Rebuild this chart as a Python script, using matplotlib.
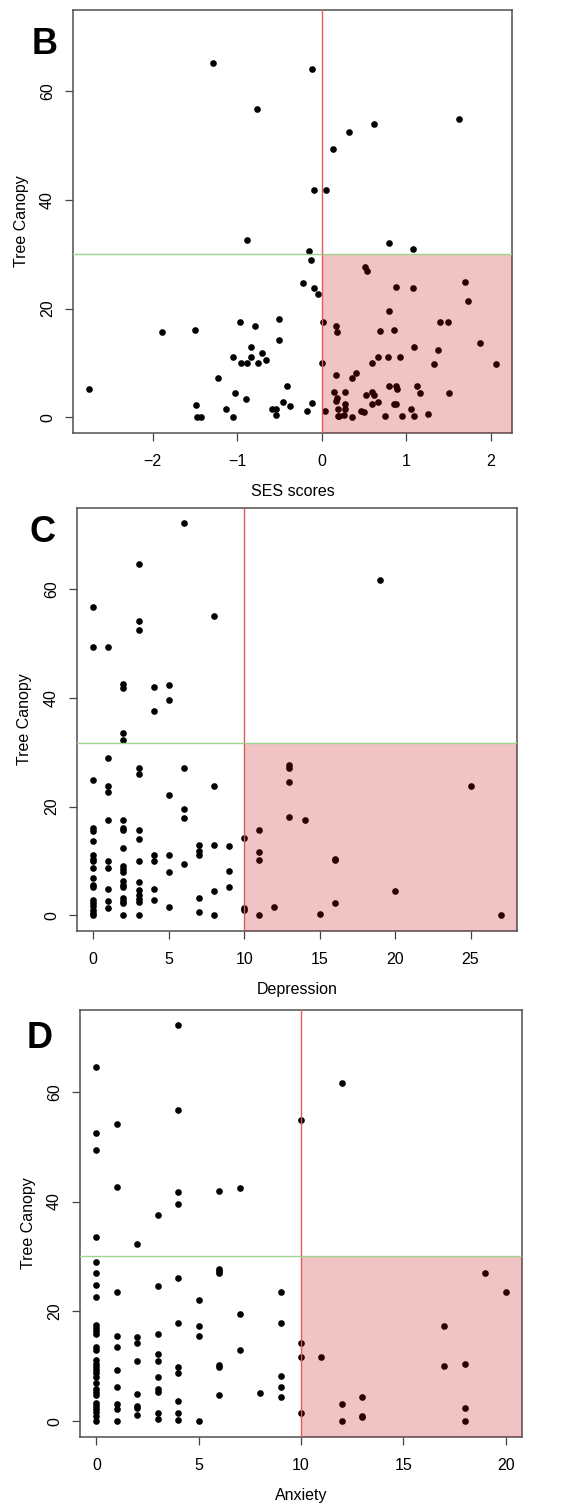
import numpy as np
import matplotlib
matplotlib.use('Agg')
import matplotlib.pyplot as plt
import matplotlib.patches as mpatches

plt.rcParams['font.family'] = ['Liberation Sans', 'DejaVu Sans']

# panel B: SES scores vs tree canopy
ses_B = [-1.28, -0.11, -0.76, 1.62, 0.62, 0.32, 0.13, -0.09, 0.05, -0.88,
         0.80, 1.08, -0.15, -0.13, -0.22, -0.09, -0.04, 0.51, 0.54, 1.70,
         0.88, 1.08, 1.73, 0.80, -0.50, -0.96, 0.02, 1.40, 1.49, -0.79,
         0.17, 0.18, 0.85, 0.69, -1.89, -1.50, -0.51, 1.87, -0.83, 1.09,
         1.37, -0.70, -1.05, -0.84, 0.67, 0.78, 0.92, -0.66, -0.95, -0.88,
         -0.75, 0.00, 0.59, 1.33, 2.06, -1.22, 0.17, 0.36, 0.41, -2.75,
         -0.41, 0.80, 0.88, 0.89, 1.13, -1.02, 0.15, 0.28, 0.59, 0.62,
         0.52, 1.16, 1.50, 0.18, 0.17, -0.90, -0.46, -0.11, 0.66, -1.48,
         -0.37, 0.27, 0.59, 0.86, 0.88, -1.13, -0.59, -0.54, 0.19, 0.27,
         1.06, -0.17, 0.04, 0.46, 0.50, -0.54, 0.26, 1.26, -1.47, -1.43,
         -1.05, 0.19, 0.21, 0.36, 0.75, 0.95, 1.09]
canopy_B = [65.1, 64.0, 56.6, 54.8, 54.0, 52.4, 49.3, 41.8, 41.8, 32.6,
            32.1, 31.0, 30.5, 29.0, 24.7, 23.7, 22.6, 27.7, 26.9, 24.8,
            24.0, 23.7, 21.4, 19.6, 18.0, 17.5, 17.5, 17.5, 17.5, 16.8,
            16.8, 15.6, 16.1, 15.8, 15.6, 16.0, 14.2, 13.6, 12.9, 13.0,
            12.3, 11.8, 11.0, 11.0, 11.0, 11.0, 11.0, 10.5, 9.9, 9.9,
            9.9, 9.9, 9.9, 9.8, 9.8, 7.3, 7.7, 7.3, 8.2, 5.3,
            5.7, 5.8, 5.8, 5.3, 5.8, 4.5, 4.7, 4.7, 4.6, 4.1,
            4.1, 4.5, 4.4, 3.6, 3.0, 3.4, 2.8, 2.7, 2.8, 2.3,
            2.1, 2.4, 2.4, 2.5, 2.4, 1.5, 1.5, 1.6, 1.5, 1.6,
            1.5, 1.2, 1.2, 1.2, 1.0, 0.4, 0.5, 0.6, 0.0, 0.0,
            0.0, 0.2, 0.2, 0.0, 0.2, 0.2, 0.2]

# panel C: depression vs tree canopy
dep_C = [6, 3, 19, 0, 8, 3, 3, 0, 1, 2,
         2, 4, 5, 5, 4, 2, 2, 1, 3, 3,
         6, 0, 1, 1, 8, 5, 6, 6, 1, 2,
         0, 0, 2, 2, 3, 3, 0, 2, 7, 8,
         9, 10, 11, 11, 11, 13, 13, 13, 13, 14,
         16, 16, 25, 7, 7, 0, 0, 0, 1, 1,
         3, 4, 4, 5, 6, 0, 2, 2, 2, 5,
         9, 0, 0, 0, 1, 2, 2, 2, 3, 3,
         3, 3, 3, 4, 4, 7, 8, 9, 20, 0,
         0, 0, 0, 0, 0, 1, 1, 2, 2, 2,
         2, 3, 5, 7, 8, 10, 10, 11, 12, 15,
         16, 27]
canopy_C = [72.2, 64.6, 61.6, 56.7, 55.0, 54.1, 52.5, 49.4, 49.4, 42.6,
            41.8, 41.9, 42.4, 39.6, 37.5, 33.5, 32.2, 29.0, 27.0, 26.0,
            27.0, 24.9, 23.7, 22.6, 23.7, 22.2, 19.5, 17.9, 17.5, 17.5,
            16.1, 15.5, 16.0, 15.6, 15.6, 14.1, 13.6, 12.3, 13.0, 13.0,
            12.8, 14.2, 15.6, 11.7, 10.2, 27.6, 27.0, 24.6, 18.0, 17.5,
            10.4, 10.1, 23.7, 11.8, 11.0, 11.1, 10.4, 9.9, 9.9, 8.7,
            9.9, 11.0, 9.9, 11.0, 9.5, 8.7, 9.0, 8.5, 8.0, 8.0,
            8.2, 6.9, 5.6, 5.3, 4.9, 6.3, 5.6, 5.3, 6.1, 4.6,
            3.7, 3.0, 2.4, 4.9, 2.9, 3.1, 4.5, 5.2, 4.5, 2.9,
            2.3, 1.7, 1.0, 0.4, 0.0, 2.7, 1.4, 3.2, 2.6, 2.2,
            0.0, 0.1, 1.5, 0.6, 0.0, 1.3, 1.0, 0.0, 1.5, 0.3,
            2.3, 0.1]

# panel D: anxiety vs tree canopy
anx_D = [4, 0, 12, 4, 10, 1, 0, 0, 1, 4,
         6, 7, 4, 3, 0, 2, 0, 0, 0, 0,
         1, 3, 4, 6, 6, 6, 5, 9, 7, 19,
         20, 4, 9, 5, 5, 17, 0, 0, 0, 0,
         1, 2, 3, 2, 10, 0, 0, 1, 7, 3,
         10, 11, 0, 0, 0, 2, 3, 4, 4, 6,
         6, 17, 18, 1, 0, 0, 0, 3, 9, 0,
         1, 9, 3, 3, 0, 0, 0, 8, 2, 6,
         9, 13, 0, 0, 0, 0, 0, 0, 1, 1,
         2, 2, 2, 4, 3, 3, 4, 4, 1, 5,
         10, 12, 12, 13, 13, 18, 18]
canopy_D = [72.1, 64.5, 61.5, 56.6, 54.9, 54.1, 52.4, 49.4, 42.6, 41.8,
            41.9, 42.4, 39.6, 37.5, 33.5, 32.2, 29.0, 26.9, 24.8, 22.6,
            23.6, 24.6, 26.0, 27.7, 27.3, 26.9, 22.1, 23.6, 19.5, 26.9,
            23.6, 17.9, 17.9, 17.4, 15.6, 17.4, 17.6, 17.0, 16.4, 15.8,
            15.6, 15.4, 15.9, 14.2, 14.2, 13.6, 13.0, 13.6, 12.9, 12.2,
            11.7, 11.7, 11.1, 10.5, 9.9, 11.0, 11.0, 9.9, 8.7, 10.2,
            9.9, 10.0, 10.4, 9.4, 9.3, 8.7, 8.1, 8.0, 8.2, 6.9,
            6.2, 6.2, 5.8, 5.3, 5.8, 5.3, 4.8, 5.2, 4.9, 4.7,
            4.4, 4.4, 3.4, 2.8, 2.2, 1.6, 1.0, 0.0, 3.1, 2.2,
            2.8, 2.4, 1.1, 3.6, 1.5, 0.4, 1.5, 0.2, 0.1, 0.0,
            1.5, 3.1, 0.0, 1.0, 0.7, 2.4, 0.1]

panel_letters = ['B', 'C', 'D']
x_labels = ['SES scores', 'Depression', 'Anxiety']
x_cut = [0, 10, 10]
y_cut = [30, 31.7, 30]
x_ticks = [[-2, -1, 0, 1, 2], [0, 5, 10, 15, 20, 25], [0, 5, 10, 15, 20]]
x_lims = [(-2.94, 2.25), (-1.08, 28.08), (-0.8, 20.8)]
y_ticks = [0, 20, 40, 60]
y_lim = (-2.88, 74.88)

W, H = 563, 1504
# axes boxes in pixels: left, right, top, bottom
boxes = [(73, 512, 10, 433), (77, 517, 508, 931), (80, 522, 1010, 1437)]
letter_pos = [(32, 54), (30, 542), (27, 1048)]

fig = plt.figure(figsize=(W / 100, H / 100), dpi=100)
data = [(ses_B, canopy_B), (dep_C, canopy_C), (anx_D, canopy_D)]
for i in range(3):
    l, r, t, b = boxes[i]
    ax = fig.add_axes([l / W, 1 - b / H, (r - l) / W, (b - t) / H])
    x, y = data[i]
    ax.scatter(x, y, s=23, color='black', linewidths=0, zorder=2)
    ax.set_xlim(*x_lims[i]); ax.set_ylim(*y_lim)
    # shaded quadrant: above cut on x, below cut on y
    ax.add_patch(mpatches.Rectangle((x_cut[i], y_lim[0]), x_lims[i][1] - x_cut[i], y_cut[i] - y_lim[0],
                                    facecolor=(0.75, 0.0, 0.0, 0.23), edgecolor='none', zorder=3))
    ax.axvline(x_cut[i], color='#E4585A', lw=1.0, zorder=4)
    ax.axhline(y_cut[i], color='#9FD38E', lw=1.0, zorder=4)
    ax.set_xticks(x_ticks[i]); ax.set_yticks(y_ticks)
    ax.tick_params(axis='both', direction='out', length=6, width=0.9, color='#444444',
                   labelsize=11.5, labelcolor='black')
    ax.tick_params(axis='x', pad=9)
    ax.tick_params(axis='y', pad=7, labelrotation=90)
    for lab in ax.get_yticklabels():
        lab.set_va('center')
    for sp in ax.spines.values():
        sp.set_color('#505050'); sp.set_linewidth(1.1)
    ax.set_xlabel(x_labels[i], fontsize=11.5)
    ax.xaxis.set_label_coords(0.5, -58.5 / (b - t))
    ax.xaxis.label.set_va('center')
    ax.set_ylabel('Tree Canopy', fontsize=11.5)
    ax.yaxis.set_label_coords(-52.0 / (r - l), 0.5)
    ax.yaxis.label.set_va('center')
    fig.text(letter_pos[i][0] / W, 1 - letter_pos[i][1] / H, panel_letters[i],
             fontsize=26, fontweight='bold', ha='left', va='baseline')

fig.savefig('out.png', dpi=100)
